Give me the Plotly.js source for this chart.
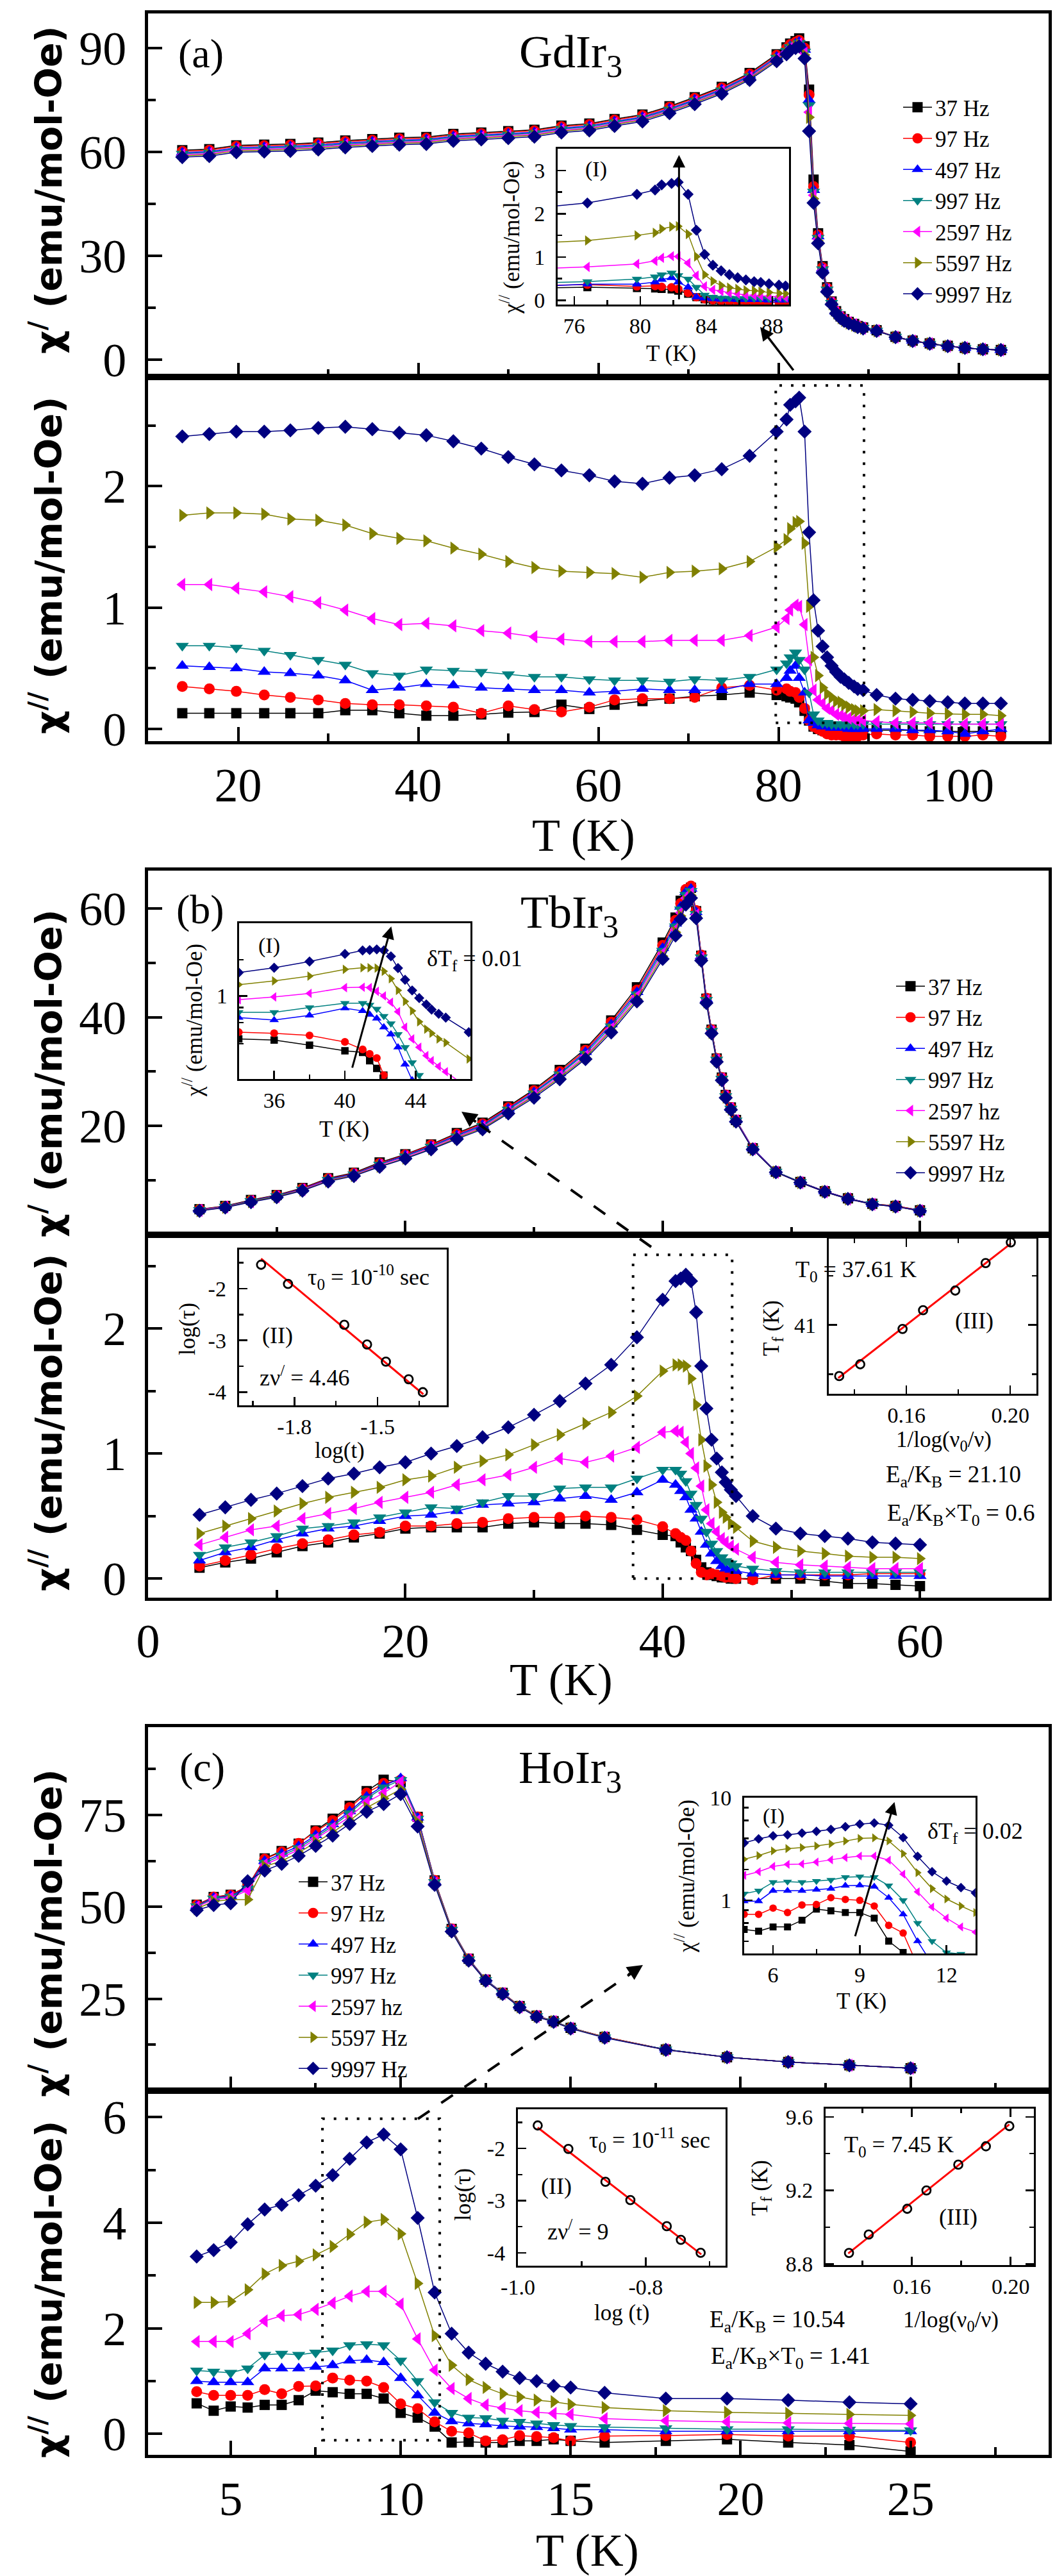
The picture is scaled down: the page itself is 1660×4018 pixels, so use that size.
<!DOCTYPE html>
<html>
<head>
<meta charset="utf-8">
<script src="https://cdn.plot.ly/plotly-3.0.1.min.js"></script>
<style>html,body{margin:0;padding:0;background:#ffffff;}#chart{width:1660px;height:4018px;}</style>
</head>
<body>
<div id="chart"></div>
<script>
// ---------------- labels ----------------
const freqA  = ['37 Hz','97 Hz','497 Hz','997 Hz','2597 Hz','5597 Hz','9997 Hz'];
const freqBC = ['37 Hz','97 Hz','497 Hz','997 Hz','2597 hz','5597 Hz','9997 Hz'];

// ---------------- (a) GdIr3 ----------------
const gdT = [13.8,16.8,19.8,22.9,25.8,28.9,31.9,34.9,37.9,40.9,43.9,47.0,50.0,52.9,55.9,59.0,61.8,64.9,67.9,70.7,73.7,76.8,79.8,
  80.9,81.3,81.9,82.3,82.9,83.4,83.9,84.4,84.9,85.4,85.9,86.4,86.9,87.3,87.8,88.4,88.8,89.4,
  90.9,93.0,94.9,96.8,98.8,100.7,102.7,104.7];
// chi' (emu/mol-Oe)
const gdP37   = [60.5,60.8,61.9,62.1,62.3,62.7,63.3,63.7,64.1,64.3,65.2,65.6,66.0,66.4,67.6,68.2,69.5,70.8,73.2,75.8,78.8,82.8,88.2,
  90.2,91.3,92.0,92.8,90.5,78.0,52.0,36.5,27.0,20.9,16.8,14.0,12.5,11.7,10.9,10.3,9.7,9.3, 8.5,6.6,5.5,4.7,4.0,3.4,3.0,2.8];
const gdP97   = [60.2,60.5,61.6,61.8,62.0,62.4,63.0,63.4,63.8,64.0,64.9,65.3,65.7,66.1,67.3,67.9,69.2,70.5,72.9,75.5,78.5,82.5,87.9,
  89.9,91.0,91.7,92.2,90.0,76.5,50.0,36.0,26.6,20.7,16.6,13.9,12.4,11.6,10.9,10.2,9.7,9.3, 8.5,6.6,5.5,4.7,3.9,3.4,3.0,2.8];
const gdP497  = [59.8,60.1,61.2,61.4,61.6,62.0,62.6,63.0,63.4,63.6,64.5,64.9,65.3,65.7,66.9,67.5,68.8,70.1,72.5,75.1,78.1,82.1,87.5,
  89.5,90.6,91.3,91.8,89.5,75.0,49.0,35.6,26.3,20.5,16.5,13.8,12.4,11.5,10.8,10.2,9.6,9.2, 8.4,6.6,5.5,4.6,3.9,3.4,3.0,2.8];
const gdP997  = [59.5,59.8,60.9,61.1,61.3,61.7,62.3,62.7,63.1,63.3,64.2,64.6,65.0,65.4,66.6,67.2,68.5,69.8,72.2,74.8,77.8,81.8,87.2,
  89.2,90.3,91.0,91.5,89.0,73.5,48.5,35.2,26.1,20.3,16.4,13.7,12.3,11.4,10.7,10.1,9.6,9.2, 8.4,6.6,5.4,4.6,3.9,3.4,3.0,2.8];
const gdP2597 = [59.2,59.5,60.6,60.8,61.0,61.4,62.0,62.4,62.8,63.0,63.9,64.3,64.7,65.1,66.3,66.9,68.2,69.5,71.9,74.5,77.5,81.5,86.9,
  88.9,90.0,90.7,91.2,88.5,71.5,47.5,34.8,25.8,20.1,16.3,13.6,12.2,11.4,10.7,10.1,9.5,9.1, 8.4,6.5,5.4,4.6,3.9,3.4,3.0,2.8];
const gdP5597 = [58.9,59.2,60.3,60.5,60.7,61.1,61.7,62.1,62.5,62.7,63.6,64.0,64.4,64.8,66.0,66.6,67.9,69.2,71.6,74.2,77.2,81.2,86.6,
  88.6,89.7,90.4,90.9,88.0,70.0,46.5,34.3,25.5,19.9,16.2,13.5,12.1,11.3,10.6,10.0,9.5,9.1, 8.3,6.5,5.4,4.6,3.9,3.4,3.0,2.8];
const gdP9997 = [58.5,58.8,59.9,60.1,60.3,60.7,61.3,61.7,62.1,62.3,63.2,63.6,64.0,64.4,65.6,66.2,67.5,68.8,71.2,73.8,76.8,80.8,86.2,
  88.2,89.3,90.0,90.5,87.0,66.0,45.3,33.6,25.1,19.6,16.0,13.4,12.0,11.2,10.5,9.9,9.4,9.0, 8.3,6.5,5.4,4.6,3.9,3.4,3.0,2.8];
// chi'' (emu/mol-Oe)
const gdPP37   = [0.13,0.13,0.13,0.13,0.13,0.13,0.155,0.155,0.13,0.11,0.11,0.12,0.135,0.14,0.20,0.165,0.20,0.23,0.25,0.27,0.28,0.30,0.28,
  0.27,0.26,0.25,0.22,0.15,0.07,0.02,0.0,-0.01,-0.01,-0.01,-0.01,-0.01,-0.01,-0.01,-0.01,-0.01,-0.01, -0.01,-0.01,-0.01,-0.02,-0.02,-0.02,-0.02,-0.02];
const gdPP97   = [0.35,0.33,0.31,0.28,0.26,0.24,0.21,0.20,0.20,0.19,0.18,0.13,0.19,0.16,0.14,0.18,0.24,0.25,0.25,0.26,0.34,0.36,0.32,
  0.33,0.31,0.30,0.26,0.17,0.07,0.02,0.0,-0.02,-0.04,-0.05,-0.05,-0.05,-0.06,-0.06,-0.06,-0.06,-0.05, -0.04,-0.05,-0.05,-0.06,-0.06,-0.06,-0.05,-0.06];
const gdPP497  = [0.52,0.51,0.50,0.47,0.46,0.44,0.40,0.32,0.34,0.37,0.36,0.34,0.33,0.32,0.32,0.30,0.31,0.33,0.32,0.32,0.32,0.37,0.37,
  0.42,0.48,0.52,0.42,0.30,0.07,0.05,0.03,0.02,0.02,0.01,0.01,0.01,0.01,0.0,0.0,0.0,0.0, 0.0,0.0,-0.01,-0.01,-0.02,-0.04,-0.02,0.0];
const gdPP997  = [0.685,0.685,0.67,0.645,0.61,0.57,0.53,0.46,0.44,0.49,0.48,0.47,0.45,0.43,0.43,0.41,0.40,0.40,0.39,0.41,0.40,0.43,0.49,
  0.54,0.59,0.63,0.57,0.49,0.30,0.12,0.07,0.05,0.05,0.04,0.04,0.04,0.04,0.04,0.04,0.04,0.04, 0.04,0.04,0.04,0.04,0.04,0.04,0.04,0.04];
const gdPP2597 = [1.19,1.19,1.16,1.13,1.09,1.04,0.98,0.91,0.86,0.87,0.85,0.81,0.79,0.76,0.74,0.72,0.72,0.72,0.73,0.73,0.73,0.77,0.84,
  0.91,0.98,1.02,1.01,0.86,0.57,0.32,0.24,0.21,0.17,0.15,0.12,0.11,0.10,0.09,0.08,0.07,0.07, 0.06,0.05,0.05,0.05,0.04,0.04,0.04,0.04];
const gdPP5597 = [1.76,1.78,1.78,1.77,1.73,1.72,1.68,1.61,1.57,1.55,1.49,1.44,1.38,1.33,1.30,1.29,1.28,1.25,1.29,1.30,1.32,1.38,1.50,
  1.56,1.65,1.70,1.71,1.53,1.01,0.59,0.44,0.34,0.29,0.26,0.23,0.22,0.20,0.18,0.16,0.15,0.15, 0.16,0.15,0.14,0.13,0.125,0.12,0.12,0.11];
const gdPP9997 = [2.41,2.43,2.45,2.45,2.46,2.48,2.49,2.47,2.44,2.42,2.37,2.31,2.24,2.18,2.13,2.09,2.04,2.02,2.07,2.09,2.14,2.25,2.45,
  2.55,2.67,2.70,2.73,2.45,1.62,1.06,0.81,0.68,0.59,0.52,0.47,0.43,0.41,0.38,0.35,0.33,0.32, 0.28,0.25,0.24,0.23,0.22,0.21,0.21,0.21];

// ---------------- (b) TbIr3 ----------------
const tbT = [4,6,8,10,12,14,16,18,20,22,24,26,28,30,32,34,36,38,40,
  41.0,41.4,41.8,42.2,42.6,43.0,43.4,43.8,44.2,44.6,44.9,45.3,45.7,
  47.0,48.8,50.7,52.6,54.4,56.3,58.1,60.0];
const tbP37   = [4.7,5.3,6.4,7.3,8.6,10.4,11.4,13.3,14.8,16.6,18.7,20.6,23.6,26.7,30.3,34.2,39.4,45.5,53.7,
  58.3,61.4,62.9,63.8,59.5,51.3,43.4,37.7,32.4,28.9,25.7,23.4,21.1, 15.9,11.6,9.7,8.0,6.7,5.7,5.3,4.5];
const tbP97   = [4.65,5.25,6.3,7.25,8.5,10.3,11.3,13.1,14.7,16.5,18.5,20.4,23.4,26.5,30.0,33.9,39.1,45.0,53.2,
  57.8,60.9,63.5,64.1,59.6,51.4,43.5,37.7,32.4,28.9,25.7,23.4,21.1, 15.9,11.6,9.7,8.0,6.7,5.7,5.3,4.5];
const tbP497  = [4.6,5.2,6.25,7.2,8.4,10.2,11.2,13.0,14.6,16.3,18.3,20.2,23.2,26.2,29.7,33.6,38.7,44.6,52.7,
  57.2,60.3,63.0,63.6,59.3,51.2,43.3,37.6,32.3,28.8,25.6,23.3,21.1, 15.9,11.6,9.7,8.0,6.7,5.7,5.2,4.5];
const tbP997  = [4.55,5.15,6.2,7.1,8.3,10.1,11.1,12.9,14.4,16.2,18.1,20.0,23.0,26.0,29.5,33.3,38.3,44.2,52.2,
  56.7,59.8,62.5,63.2,59.0,51.0,43.2,37.5,32.2,28.7,25.5,23.2,21.0, 15.8,11.6,9.7,7.9,6.6,5.7,5.2,4.4];
const tbP2597 = [4.5,5.1,6.1,7.0,8.3,10.0,11.0,12.8,14.3,16.0,18.0,19.8,22.7,25.7,29.2,32.9,37.9,43.8,51.7,
  56.1,59.2,61.9,62.8,58.8,50.8,43.0,37.3,32.1,28.6,25.4,23.2,21.0, 15.8,11.5,9.6,7.9,6.6,5.6,5.2,4.4];
const tbP5597 = [4.45,5.05,6.1,7.0,8.2,9.9,10.9,12.6,14.1,15.8,17.8,19.6,22.5,25.5,28.9,32.6,37.6,43.3,51.2,
  55.6,58.6,61.3,62.4,58.5,50.6,42.8,37.2,32.0,28.5,25.3,23.1,20.9, 15.7,11.5,9.6,7.9,6.6,5.6,5.2,4.4];
const tbP9997 = [4.4,5.0,6.0,6.9,8.1,9.8,10.8,12.5,14.0,15.7,17.6,19.4,22.3,25.2,28.6,32.3,37.2,42.9,50.7,
  55.0,58.0,60.7,61.9,58.2,50.4,42.6,37.0,31.8,28.4,25.2,23.0,20.8, 15.7,11.5,9.6,7.9,6.6,5.6,5.2,4.4];
const tbPP37   = [0.087,0.13,0.16,0.21,0.26,0.29,0.33,0.36,0.40,0.41,0.41,0.41,0.44,0.45,0.44,0.44,0.43,0.39,0.35,
  0.34,0.29,0.25,0.22,0.15,0.09,0.05,0.03,0.02,0.01,0.01,0.0,0.0, 0.0,0.0,0.0,-0.02,-0.04,-0.04,-0.05,-0.06];
const tbPP97   = [0.10,0.145,0.19,0.24,0.28,0.31,0.35,0.37,0.42,0.42,0.44,0.45,0.48,0.49,0.49,0.50,0.49,0.47,0.415,
  0.36,0.33,0.305,0.22,0.12,0.05,0.03,0.04,0.03,0.02,0.01,0.01,0.0, -0.01,0.03,0.03,0.03,0.03,0.04,0.04,0.04];
const tbPP497  = [0.145,0.21,0.25,0.31,0.36,0.40,0.42,0.46,0.50,0.51,0.54,0.59,0.60,0.61,0.64,0.66,0.63,0.69,0.79,
  0.75,0.70,0.65,0.55,0.48,0.375,0.27,0.20,0.14,0.10,0.08,0.07,0.06, 0.04,0.03,0.03,0.02,0.02,0.02,0.02,0.02];
const tbPP997  = [0.19,0.25,0.29,0.34,0.40,0.42,0.45,0.49,0.53,0.57,0.56,0.61,0.66,0.66,0.72,0.73,0.73,0.80,0.87,
  0.87,0.84,0.78,0.68,0.59,0.48,0.375,0.28,0.22,0.17,0.14,0.12,0.10, 0.08,0.06,0.05,0.05,0.05,0.05,0.05,0.05];
const tbPP2597 = [0.27,0.33,0.39,0.42,0.48,0.52,0.56,0.61,0.65,0.69,0.75,0.79,0.83,0.89,0.96,0.93,0.98,1.05,1.17,
  1.18,1.17,1.09,1.00,0.885,0.74,0.55,0.44,0.375,0.32,0.29,0.26,0.235, 0.17,0.13,0.11,0.10,0.09,0.08,0.08,0.08];
const tbPP5597 = [0.36,0.42,0.48,0.54,0.60,0.65,0.69,0.73,0.79,0.82,0.89,0.94,0.99,1.07,1.15,1.24,1.33,1.46,1.66,
  1.71,1.71,1.70,1.60,1.39,1.11,0.90,0.75,0.61,0.53,0.49,0.44,0.41, 0.30,0.25,0.22,0.20,0.18,0.17,0.17,0.16];
const tbPP9997 = [0.51,0.57,0.63,0.68,0.74,0.80,0.84,0.89,0.93,1.00,1.06,1.13,1.21,1.31,1.42,1.56,1.71,1.93,2.23,
  2.38,2.40,2.43,2.38,2.13,1.70,1.36,1.11,0.96,0.85,0.77,0.71,0.66, 0.50,0.40,0.36,0.34,0.32,0.29,0.28,0.27];
// inset (II): log(tau) vs log(t); inset (III): Tf vs 1/log(nu0/nu)
const tbLogT   = [-1.92,-1.823,-1.62,-1.538,-1.47,-1.388,-1.337];
const tbLogTau = [-1.54,-1.91,-2.70,-3.08,-3.41,-3.75,-4.0];
const tbFitLogT   = [-1.92,-1.335];
const tbFitLogTau = [-1.42,-4.04];
const tbInvLog = [0.1341,0.1422,0.1585,0.1664,0.1788,0.1905,0.2002];
const tbTf     = [40.48,40.60,40.96,41.15,41.35,41.63,41.84];
const tbFitInvLog = [0.1337,0.2003];
const tbFitTf     = [40.46,41.83];

// ---------------- (c) HoIr3 ----------------
const hoT = [4.0,4.5,5.0,5.5,6.0,6.5,7.0,7.5,8.0,8.5,9.0,9.5,10.0,10.5,11.0,11.5,12.0,12.5,13.0,13.5,14.0,14.5,15.0,16.0,17.8,19.6,21.4,23.2,25.0];
const hoP37   = [50.6,52.7,53.3,55.6,63.2,65.2,67.2,70.8,74.0,77.5,81.5,84.6,84.0,74.5,57.2,44.0,35.9,30.2,26.6,23.0,20.4,18.9,17.1,14.6,11.2,9.1,7.8,6.9,6.1];
const hoP97   = [50.5,52.7,53.2,55.6,63.0,65.0,67.3,70.5,73.5,77.0,81.0,83.6,84.5,74.5,57.2,44.0,35.9,30.2,26.6,23.0,20.4,18.9,17.1,14.6,11.2,9.1,7.8,6.9,6.1];
const hoP497  = [50.3,52.5,53.0,55.3,62.5,64.5,66.5,69.5,72.5,76.0,80.0,83.0,85.0,74.3,57.0,43.9,35.8,30.2,26.5,22.9,20.3,18.9,17.1,14.5,11.2,9.1,7.8,6.9,6.1];
const hoP997  = [50.2,52.3,52.8,55.0,62.0,64.0,66.0,69.0,72.0,75.5,79.5,82.5,84.5,74.0,56.8,43.8,35.7,30.1,26.5,22.9,20.3,18.9,17.1,14.5,11.2,9.1,7.8,6.9,6.1];
const hoP2597 = [50.0,52.0,52.5,54.5,61.5,63.5,65.5,68.5,71.5,74.5,78.5,81.0,84.0,73.5,56.5,43.6,35.6,30.0,26.4,22.8,20.2,18.8,17.0,14.5,11.1,9.1,7.8,6.9,6.1];
const hoP5597 = [49.5,51.5,52.0,52.0,61.0,62.5,64.8,67.6,70.3,73.5,77.0,79.5,82.0,73.0,56.5,43.6,35.6,30.0,26.4,22.8,20.2,18.8,17.0,14.5,11.1,9.1,7.8,6.9,6.1];
const hoP9997 = [49.1,50.5,51.0,57.0,59.9,61.7,63.9,66.6,69.4,72.6,75.9,78.0,80.7,71.9,56.0,43.3,35.4,29.9,26.3,22.7,20.1,18.7,16.9,14.4,11.1,9.1,7.8,6.9,6.1];
const hoPP37   = [0.58,0.44,0.52,0.50,0.55,0.55,0.64,0.82,0.79,0.76,0.76,0.67,0.40,0.31,0.14,-0.16,-0.15,-0.16,-0.16,-0.13,-0.13,-0.10,-0.13,-0.16,-0.13,-0.10,-0.16,-0.21,-0.33];
const hoPP97   = [0.80,0.73,0.73,0.73,0.84,0.76,0.90,0.91,1.06,1.02,1.00,0.88,0.57,0.48,0.23,0.05,0.02,-0.13,-0.11,-0.03,-0.05,-0.07,-0.13,-0.04,-0.03,-0.01,-0.04,-0.04,-0.16];
const hoPP497  = [1.00,0.98,0.98,0.98,1.24,1.24,1.24,1.27,1.30,1.39,1.40,1.36,1.06,0.73,0.40,0.24,0.20,0.18,0.15,0.14,0.13,0.11,0.08,0.08,0.05,0.05,0.05,0.05,0.05];
const hoPP997  = [1.20,1.18,1.16,1.24,1.50,1.52,1.50,1.54,1.58,1.68,1.70,1.68,1.39,1.00,0.60,0.40,0.31,0.30,0.25,0.23,0.20,0.17,0.15,0.13,0.11,0.09,0.09,0.08,0.07];
const hoPP2597 = [1.75,1.75,1.75,1.90,2.14,2.24,2.26,2.36,2.48,2.61,2.70,2.70,2.46,1.80,1.21,0.86,0.67,0.55,0.49,0.44,0.41,0.39,0.37,0.29,0.25,0.23,0.21,0.20,0.19];
const hoPP5597 = [2.49,2.49,2.51,2.73,3.03,3.19,3.27,3.39,3.55,3.78,4.01,4.06,3.79,2.85,1.86,1.30,1.03,0.88,0.76,0.70,0.64,0.61,0.56,0.50,0.44,0.41,0.39,0.37,0.35];
const hoPP9997 = [3.36,3.48,3.63,3.97,4.25,4.34,4.52,4.70,4.90,5.21,5.52,5.67,5.39,4.09,2.68,1.90,1.54,1.33,1.18,1.06,1.00,0.91,0.88,0.78,0.67,0.67,0.64,0.60,0.57];
const hoLogT   = [-0.969,-0.921,-0.863,-0.824,-0.767,-0.745,-0.714];
const hoLogTau = [-1.56,-2.01,-2.64,-2.99,-3.49,-3.75,-4.0];
const hoFitLogT   = [-0.969,-0.713];
const hoFitLogTau = [-1.60,-4.03];
const hoInvLog = [0.1345,0.1425,0.1581,0.1659,0.1788,0.1900,0.1995];
const hoTf     = [8.86,8.96,9.10,9.20,9.34,9.44,9.55];
const hoFitInvLog = [0.1342,0.1995];
const hoFitTf     = [8.857,9.559];

// ---------------- tick values ----------------
const aXTicks=[20,40,60,80,100], aXMinor=[30,50,70,90];
const aYTopTicks=[0,30,60,90], aYTopMinor=[15,45,75];
const aYBotTicks=[0,1,2], aYBotMinor=[0.5,1.5,2.5];
const bXTicks=[0,20,40,60], bXMinor=[10,30,50];
const bYTopTicks=[20,40,60], bYTopMinor=[10,30,50];
const bYBotTicks=[0,1,2], bYBotMinor=[0.5,1.5,2.5];
const cXTicks=[5,10,15,20,25], cXMinor=[7.5,12.5,17.5,22.5,27.5];
const cYTopTicks=[25,50,75], cYTopMinor=[12.5,37.5,62.5,87.5];
const cYBotTicks=[0,2,4,6], cYBotMinor=[1,3,5];
const aIXTicks=[76,80,84,88], aIXMinor=[78,82,86], aIYTicks=[0,1,2,3], aIYMinor=[0.5,1.5,2.5];
const bIXTicks=[36,40,44], bIXMinor=[38,42,46], bIYTicks=[1], bIYText=['1'], bIYMinor=[0.4,0.6,0.8,2];
const bIIXTicks=[-1.8,-1.5], bIIXText=['-1.8','-1.5'], bIIXMinor=[-1.95,-1.65,-1.35];
const IIYTicks=[-4,-3,-2], IIYText=['-4','-3','-2'], IIYMinor=[-3.5,-2.5,-1.5];
const IIIXTicks=[0.16,0.20], IIIXText=['0.16','0.20'], IIIXMinor=[0.14,0.18];
const bIIIYTicks=[41], bIIIYMinor=[40.5,41.5];
const cIXTicks=[6,9,12], cIXMinor=[7.5,10.5], cIYTicks=[1,10], cIYText=['1','10'], cIYMinor=[0.4,0.6,0.8,2,4,6,8];
const cIIXTicks=[-1.0,-0.8], cIIXText=['-1.0','-0.8'], cIIXMinor=[-0.9,-0.7];
const cIIIYTicks=[8.8,9.2,9.6], cIIIYText=['8.8','9.2','9.6'], cIIIYMinor=[9.0,9.4];

// ---------------- styling / layout ----------------
const seriesColors  = ['#000000','#ff0000','#0000ff','#008080','#ff00ff','#808000','#000080'];
const seriesSymbols = ['square','circle','triangle-up','triangle-down','triangle-left','triangle-right','diamond'];
const seriesSizes   = [16,17,18,18,18,18,17];
const W=1660, H=4018;
const px = v => v / W;
const py = v => 1 - v / H;
const SERIF = 'Liberation Serif';

const traces = [];
function addSet(x, ys, xa, ya, o) {
  ys.forEach((y, i) => {
    const t = {
      type:'scatter', mode:'lines+markers', x:x, y:y, xaxis:xa, yaxis:ya,
      name: o.labels ? o.labels[i] : freqA[i], showlegend: !!o.legend,
      line:{color:seriesColors[i], width:1.5},
      marker:{symbol:seriesSymbols[i], color:seriesColors[i], size:seriesSizes[i]*(o.scale||1), line:{width:0}},
      hoverinfo:'skip'
    };
    if (o.legend) t.legend = o.legend;
    traces.push(t);
  });
}
function addFit(xd, yd, xf, yf, xa, ya) {
  traces.push({type:'scatter', mode:'lines', x:xf, y:yf, xaxis:xa, yaxis:ya, showlegend:false, name:'fit',
    line:{color:'#ff0000', width:3}, hoverinfo:'skip'});
  traces.push({type:'scatter', mode:'markers', x:xd, y:yd, xaxis:xa, yaxis:ya, showlegend:false, name:'data',
    marker:{symbol:'circle-open', size:13, color:'#000000', line:{width:2.8, color:'#000000'}}, hoverinfo:'skip'});
}

addSet(gdT, [gdP37,gdP97,gdP497,gdP997,gdP2597,gdP5597,gdP9997], 'x2','y2', {labels:freqA, legend:'legend'});
addSet(gdT, [gdPP37,gdPP97,gdPP497,gdPP997,gdPP2597,gdPP5597,gdPP9997], 'x','y', {});
addSet(gdT, [gdPP37,gdPP97,gdPP497,gdPP997,gdPP2597,gdPP5597,gdPP9997], 'x7','y7', {scale:0.78});
addSet(tbT, [tbP37,tbP97,tbP497,tbP997,tbP2597,tbP5597,tbP9997], 'x4','y4', {labels:freqBC, legend:'legend2'});
addSet(tbT, [tbPP37,tbPP97,tbPP497,tbPP997,tbPP2597,tbPP5597,tbPP9997], 'x3','y3', {});
addSet(tbT, [tbPP37,tbPP97,tbPP497,tbPP997,tbPP2597,tbPP5597,tbPP9997], 'x8','y8', {scale:0.72});
addFit(tbLogT, tbLogTau, tbFitLogT, tbFitLogTau, 'x9','y9');
addFit(tbInvLog, tbTf, tbFitInvLog, tbFitTf, 'x10','y10');
addSet(hoT, [hoP37,hoP97,hoP497,hoP997,hoP2597,hoP5597,hoP9997], 'x6','y6', {labels:freqBC, legend:'legend3'});
addSet(hoT, [hoPP37,hoPP97,hoPP497,hoPP997,hoPP2597,hoPP5597,hoPP9997], 'x5','y5', {});
addSet(hoT, [hoPP37,hoPP97,hoPP497,hoPP997,hoPP2597,hoPP5597,hoPP9997], 'x11','y11', {scale:0.68});
addFit(hoLogT, hoLogTau, hoFitLogT, hoFitLogTau, 'x12','y12');
addFit(hoInvLog, hoTf, hoFitInvLog, hoFitTf, 'x13','y13');

function ax(o) {
  const main = !o.inset;
  const a = {
    type: o.type || 'linear', range:o.range, domain:o.domain, anchor:o.anchor,
    showline:true, linecolor:'#000000', linewidth: main ? 5 : 3, mirror: o.mirror || true,
    ticks:'inside', ticklen: main ? 22 : 13, tickwidth: main ? 4 : 2.5, tickcolor:'#000000',
    showgrid:false, zeroline:false, automargin:false, fixedrange:true,
    tickmode:'array', tickvals:o.tickvals || [],
    showticklabels: o.labels !== false,
    tickfont:{family:SERIF, size: main ? 74 : 34, color:'#000000'},
    ticklabelstandoff: o.so !== undefined ? o.so : (main ? 12 : 6),
    minor:{tickmode:'array', tickvals:o.minor || [], ticks:'inside', ticklen: main ? 12 : 7,
      tickwidth: main ? 4 : 2.5, tickcolor:'#000000', showgrid:false}
  };
  if (o.ticktext) a.ticktext = o.ticktext;
  return a;
}
const XD = [px(231), px(1636)];

const layout = {
  width:W, height:H, margin:{l:0,r:0,t:0,b:0,pad:0},
  paper_bgcolor:'#ffffff', plot_bgcolor:'rgba(0,0,0,0)', hovermode:false, showlegend:true,
  // (a)
  xaxis:  ax({range:[10,110], domain:XD, anchor:'y',  tickvals:aXTicks, minor:aXMinor, so:0}),
  yaxis:  ax({range:[-0.1,2.9], domain:[py(1156),py(588)], anchor:'x', tickvals:aYBotTicks, minor:aYBotMinor, so:14}),
  xaxis2: ax({range:[10,110], domain:XD, anchor:'y2', tickvals:aXTicks, minor:aXMinor, labels:false}),
  yaxis2: ax({range:[-5,100], domain:[py(588),py(21)], anchor:'x2', tickvals:aYTopTicks, minor:aYTopMinor, so:14}),
  // (b)
  xaxis3: ax({range:[0,70], domain:XD, anchor:'y3', tickvals:bXTicks, minor:bXMinor, so:0}),
  yaxis3: ax({range:[-0.15,2.75], domain:[py(2491.5),py(1926)], anchor:'x3', tickvals:bYBotTicks, minor:bYBotMinor, so:14}),
  xaxis4: ax({range:[0,70], domain:XD, anchor:'y4', tickvals:bXTicks, minor:bXMinor, labels:false}),
  yaxis4: ax({range:[0,67], domain:[py(1926),py(1357.5)], anchor:'x4', tickvals:bYTopTicks, minor:bYTopMinor, so:14}),
  // (c)
  xaxis5: ax({range:[2.57,29.06], domain:XD, anchor:'y5', tickvals:cXTicks, minor:cXMinor, so:0}),
  yaxis5: ax({range:[-0.4,6.5], domain:[py(3829.4),py(3261)], anchor:'x5', tickvals:cYBotTicks, minor:cYBotMinor, so:14}),
  xaxis6: ax({range:[2.57,29.06], domain:XD, anchor:'y6', tickvals:cXTicks, minor:cXMinor, labels:false}),
  yaxis6: ax({range:[0,99], domain:[py(3261),py(2693.5)], anchor:'x6', tickvals:cYTopTicks, minor:cYTopMinor, so:14}),
  // insets
  xaxis7:  ax({inset:true, range:[75,89], domain:[px(870),px(1230.7)], anchor:'y7', tickvals:aIXTicks, minor:aIXMinor, so:1}),
  yaxis7:  ax({inset:true, range:[-0.1,3.5], domain:[py(475),py(232.3)], anchor:'x7', tickvals:aIYTicks, minor:aIYMinor, so:10}),
  xaxis8:  ax({inset:true, range:[34,47.1], domain:[px(372.5),px(734.1)], anchor:'y8', tickvals:bIXTicks, minor:bIXMinor, so:1}),
  yaxis8:  ax({inset:true, type:'log', range:[-0.691,0.603], domain:[py(1683.3),py(1440)], anchor:'x8', tickvals:bIYTicks, ticktext:bIYText, minor:bIYMinor, so:8}),
  xaxis9:  ax({inset:true, range:[-2.0,-1.25], domain:[px(372.7),px(697.3)], anchor:'y9', tickvals:bIIXTicks, ticktext:bIIXText, minor:bIIXMinor, so:1}),
  yaxis9:  ax({inset:true, range:[-4.25,-1.25], domain:[py(2191.7),py(1949.3)], anchor:'x9', tickvals:IIYTicks, ticktext:IIYText, minor:IIYMinor, so:10}),
  xaxis10: ax({inset:true, range:[0.13,0.21], domain:[px(1292.7),px(1616.7)], anchor:'y10', tickvals:IIIXTicks, ticktext:IIIXText, minor:IIIXMinor, mirror:'ticks', so:1}),
  yaxis10: ax({inset:true, range:[40.3,41.88], domain:[py(2174),py(1931.7)], anchor:'x10', tickvals:bIIIYTicks, minor:bIIIYMinor, mirror:'ticks', so:10}),
  xaxis11: ax({inset:true, range:[5,13], domain:[px(1161),px(1521.8)], anchor:'y11', tickvals:cIXTicks, minor:cIXMinor, so:1}),
  yaxis11: ax({inset:true, type:'log', range:[-0.52,1.0], domain:[py(3047.3),py(2804)], anchor:'x11', tickvals:cIYTicks, ticktext:cIYText, minor:cIYMinor, so:10}),
  xaxis12: ax({inset:true, range:[-1.0,-0.675], domain:[px(808),px(1132)], anchor:'y12', tickvals:cIIXTicks, ticktext:cIIXText, minor:cIIXMinor, so:1}),
  yaxis12: ax({inset:true, range:[-4.25,-1.25], domain:[py(3534.3),py(3290)], anchor:'x12', tickvals:IIYTicks, ticktext:IIYText, minor:IIYMinor, so:10}),
  xaxis13: ax({inset:true, range:[0.125,0.2095], domain:[px(1288),px(1613.2)], anchor:'y13', tickvals:IIIXTicks, ticktext:IIIXText, minor:IIIXMinor, mirror:'ticks', so:1}),
  yaxis13: ax({inset:true, range:[8.795,9.645], domain:[py(3532.7),py(3289)], anchor:'x13', tickvals:cIIIYTicks, ticktext:cIIIYText, minor:cIIIYMinor, mirror:'ticks', so:10}),
  legend:  {x:px(1404), y:py(138),  xanchor:'left', yanchor:'top', bgcolor:'rgba(0,0,0,0)', borderwidth:0, itemwidth:45, font:{family:SERIF, size:35, color:'#000000'}, tracegroupgap:0},
  legend2: {x:px(1393), y:py(1509), xanchor:'left', yanchor:'top', bgcolor:'rgba(0,0,0,0)', borderwidth:0, itemwidth:45, font:{family:SERIF, size:35, color:'#000000'}, tracegroupgap:0},
  legend3: {x:px(461),  y:py(2906), xanchor:'left', yanchor:'top', bgcolor:'rgba(0,0,0,0)', borderwidth:0, itemwidth:45, font:{family:SERIF, size:35, color:'#000000'}, tracegroupgap:0},
  shapes: [],
  annotations: []
};

function txt(text, x, y, size, extra) {
  layout.annotations.push(Object.assign({text:text, xref:'paper', yref:'paper', x:px(x), y:py(y),
    xanchor:'center', yanchor:'middle', showarrow:false,
    font:{family:SERIF, size:size, color:'#000000'}}, extra || {}));
}
function ytitle(text, x, y, size, family, weight) {
  txt(text, x, y, size, {textangle:-90, font:{family:family, size:size, color:'#000000', weight:weight||'normal'}});
}
// main axis titles
txt('T (K)', 910, 1303, 72);
txt('T (K)', 875, 2620, 72);
txt('T (K)', 916, 3978, 72);
ytitle('χ<sup>/</sup> (emu/mol-Oe)', 72, 296, 57, 'DejaVu Sans', 'bold');
ytitle('χ<sup>//</sup> (emu/mol-Oe)', 72, 882, 57, 'DejaVu Sans', 'bold');
ytitle('χ<sup>/</sup> (emu/mol-Oe)', 72, 1674, 57, 'DejaVu Sans', 'bold');
ytitle('χ<sup>//</sup> (emu/mol-Oe)', 72, 2219, 57, 'DejaVu Sans', 'bold');
ytitle('χ<sup>/</sup> (emu/mol-Oe)', 72, 3015, 57, 'DejaVu Sans', 'bold');
ytitle('χ<sup>//</sup> (emu/mol-Oe)', 72, 3571, 57, 'DejaVu Sans', 'bold');
// inset axis titles
ytitle('χ<sup>//</sup> (emu/mol-Oe)', 795, 371, 35, SERIF);
txt('T (K)', 1047, 552, 35);
ytitle('χ<sup>//</sup> (emu/mol-Oe)', 300, 1592, 35, SERIF);
txt('T (K)', 537, 1761, 35);
ytitle('log(τ)', 292, 2073, 35, SERIF);
txt('log(t)', 530, 2262, 35);
ytitle('T<sub>f</sub> (K)', 1205, 2072, 35, SERIF);
txt('1/log(ν<sub>0</sub>/ν)', 1472, 2247, 35);
ytitle('χ<sup>//</sup> (emu/mol-Oe)', 1068, 2927, 35, SERIF);
txt('T (K)', 1344, 3121, 35);
ytitle('log(τ)', 722, 3423, 35, SERIF);
txt('log (t)', 970, 3607, 35);
ytitle('T<sub>f</sub> (K)', 1187, 3413, 35, SERIF);
txt('1/log(ν<sub>0</sub>/ν)', 1483, 3620, 35);
// labels
txt('(a)', 313, 83, 64);
txt('GdIr<sub>3</sub>', 890, 86, 72);
txt('(I)', 930, 264, 34);
txt('(b)', 312, 1418, 64);
txt('TbIr<sub>3</sub>', 888, 1428, 72);
txt('(I)', 420, 1475, 34);
txt('δT<sub>f</sub> = 0.01', 740, 1497, 36);
txt('τ<sub>0</sub> = 10<sup>-10</sup> sec', 575, 1992, 36);
txt('(II)', 433, 2083, 36);
txt('zν<sup>/</sup> = 4.46', 475, 2146, 36);
txt('T<sub>0</sub> = 37.61 K', 1335, 1982, 36);
txt('(III)', 1520, 2060, 36);
txt('E<sub>a</sub>/K<sub>B</sub> = 21.10', 1487, 2302, 37);
txt('E<sub>a</sub>/K<sub>B</sub>×T<sub>0</sub> = 0.6', 1499, 2362, 37);
txt('(c)', 315, 2756, 64);
txt('HoIr<sub>3</sub>', 889, 2762, 72);
txt('(I)', 1207, 2833, 34);
txt('δT<sub>f</sub> = 0.02', 1521, 2858, 36);
txt('τ<sub>0</sub> = 10<sup>-11</sup> sec', 1013, 3338, 36);
txt('(II)', 868, 3410, 36);
txt('zν<sup>/</sup> = 9', 902, 3478, 36);
txt('T<sub>0</sub> = 7.45 K', 1402, 3347, 36);
txt('(III)', 1495, 3458, 36);
txt('E<sub>a</sub>/K<sub>B</sub> = 10.54', 1212, 3620, 37);
txt('E<sub>a</sub>/K<sub>B</sub>×T<sub>0</sub> = 1.41', 1233, 3677, 37);

// arrows inside insets
function arrowData(xr, yr, x, y, axv, ayv) {
  layout.annotations.push({xref:xr, yref:yr, axref:xr, ayref:yr, x:x, y:y, ax:axv, ay:ayv, text:'',
    showarrow:true, arrowhead:2, arrowsize:1.3, arrowwidth:3, arrowcolor:'#000000'});
}
arrowData('x7','y7', 82.35, 3.36, 82.35, 0.0);
arrowData('x8','y8', 42.62, 0.576, 40.4, -0.604);
arrowData('x11','y11', 10.2, 0.958, 8.83, -0.36);
// arrows between panel regions
function arrowPx(hx, hy, dxp, dyp, w) {
  layout.annotations.push({xref:'paper', yref:'paper', x:px(hx), y:py(hy), ax:dxp, ay:dyp, text:'',
    showarrow:true, arrowhead:2, arrowsize:1.2, arrowwidth:w, arrowcolor:'#000000'});
}
arrowPx(1186, 510, 53, 69, 3.5);
layout.shapes.push({type:'line', xref:'paper', yref:'paper', x0:px(1016), y0:py(1945), x1:px(732), y1:py(1743),
  line:{color:'#000000', width:4, dash:'22px,22px'}});
arrowPx(720, 1734, 24, 17, 4);
layout.shapes.push({type:'line', xref:'paper', yref:'paper', x0:px(652), y0:py(3305), x1:px(992), y1:py(3073),
  line:{color:'#000000', width:4, dash:'22px,22px'}});
arrowPx(1003, 3065, -24, 16, 4);
// dotted selection boxes
function dotBox(xr, yr, x0, x1, y0, y1) {
  layout.shapes.push({type:'rect', xref:xr, yref:yr, x0:x0, x1:x1, y0:y0, y1:y1,
    line:{color:'#000000', width:4, dash:'4px,14px'}, fillcolor:'rgba(0,0,0,0)'});
}
dotBox('x','y', 79.7, 89.5, 0.05, 2.83);
dotBox('x3','y3', 37.7, 45.4, 0.0, 2.59);
dotBox('x5','y5', 7.7, 11.15, -0.12, 5.97);

Plotly.newPlot('chart', traces, layout, {staticPlot:true, displayModeBar:false});
</script>
</body>
</html>
